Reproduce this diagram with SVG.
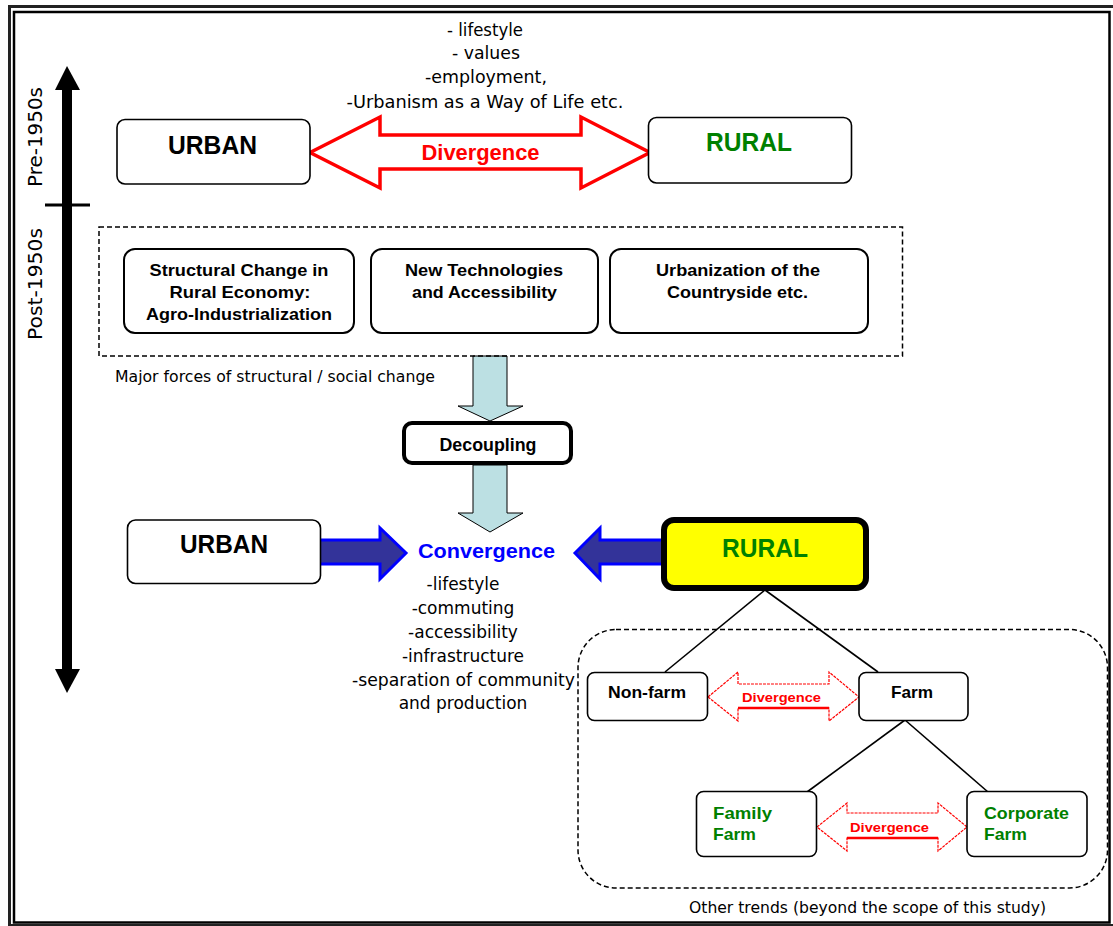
<svg xmlns="http://www.w3.org/2000/svg" width="1113" height="926" viewBox="0 0 1113 926">
<defs>
<style>
.reg{font-family:"DejaVu Sans","Liberation Sans",sans-serif;font-weight:normal;fill:#000}
.b{font-family:"Liberation Sans",Arial,sans-serif;font-weight:bold;fill:#000}
.mid{text-anchor:middle}
.box{fill:#fff;stroke:#000;stroke-width:1.6}
.fbox{fill:#fff;stroke:#000;stroke-width:2}
.green{fill:#008000}
.red{fill:#ff0000}
.line{stroke:#000;stroke-width:1.6;fill:none}
.teal{fill:#bce0e3;stroke:#000;stroke-width:1}
.blue{fill:#333399;stroke:#0000ff;stroke-width:3}
.rarrow{fill:#fff;stroke:#ff0000;stroke-width:3.5;stroke-linejoin:miter}
.sarrow{fill:#fff;stroke:#ff0000;stroke-width:1.2;stroke-dasharray:3 1}
</style>
</defs>
<rect width="1113" height="926" fill="#fff"/>
<!-- frame -->
<g id="frame" fill="none">
<path d="M9.5,926 V6.5 H1113" stroke="#222" stroke-width="3"/>
<path d="M8,925 H1113" stroke="#222" stroke-width="2"/>
<rect x="14" y="12" width="1095.5" height="910.5" stroke="#000" stroke-width="2.5"/>
</g>
<!-- timeline -->
<g id="timeline">
<rect x="62" y="88" width="10" height="583" fill="#000"/>
<polygon points="67,66 80,90 55,90" fill="#000"/>
<polygon points="67,693 80,669 55,669" fill="#000"/>
<line x1="45" y1="205" x2="90" y2="205" stroke="#000" stroke-width="3"/>
<text class="reg mid" font-size="19" transform="translate(42,137) rotate(-90)" textLength="100" lengthAdjust="spacingAndGlyphs">Pre-1950s</text>
<text class="reg mid" font-size="19" transform="translate(42,284) rotate(-90)" textLength="112" lengthAdjust="spacingAndGlyphs">Post-1950s</text>
</g>
<!-- top texts -->
<g id="top-list">
<text class="reg mid" font-size="17" x="485" y="36" textLength="76" lengthAdjust="spacingAndGlyphs">- lifestyle</text>
<text class="reg mid" font-size="17" x="486" y="59" textLength="68" lengthAdjust="spacingAndGlyphs">- values</text>
<text class="reg mid" font-size="17" x="486" y="83" textLength="122" lengthAdjust="spacingAndGlyphs">-employment,</text>
<text class="reg mid" font-size="17" x="485" y="108" textLength="277" lengthAdjust="spacingAndGlyphs">-Urbanism as a Way of Life etc.</text>
</g>
<!-- connectors -->
<g id="connectors">
<polygon class="rarrow" points="310,152.5 380,117 380,135 581,135 581,117 650,152.5 581,188 581,169 380,169 380,188"/>
<text class="b mid red" font-size="22" x="480.5" y="160" textLength="118" lengthAdjust="spacingAndGlyphs">Divergence</text>
<polygon class="teal" points="473,356 507,356 507,406 523,406 490,421 458,406 473,406"/>
<polygon class="teal" points="473,465 507,465 507,513 523,513 490,532 458,513 473,513"/>
<polygon class="blue" points="315,540 380,540 380,528 406,553 380,579 380,564 315,564"/>
<polygon class="blue" points="575,553 600,528 600,540 665,540 665,564 600,564 600,579"/>
<line class="line" x1="765" y1="590" x2="665" y2="672"/>
<line class="line" x1="765" y1="590" x2="878" y2="672"/>
<line class="line" x1="905" y1="720" x2="807" y2="792"/>
<line class="line" x1="905" y1="720" x2="988" y2="792"/>
<polygon class="sarrow" points="708,697 738,672 738,684 829,684 829,672 859,697 829,721 829,708 738,708 738,721"/>
<line x1="738" y1="708" x2="829" y2="708" stroke="#ff0000" stroke-width="2.5"/>
<text class="b mid red" font-size="12" x="781.5" y="702" textLength="79" lengthAdjust="spacingAndGlyphs">Divergence</text>
<polygon class="sarrow" points="817,827 847,803 847,813 938,813 938,803 967,827 938,851 938,838 847,838 847,851"/>
<line x1="847" y1="838" x2="938" y2="838" stroke="#ff0000" stroke-width="2.5"/>
<text class="b mid red" font-size="12" x="889.5" y="832" textLength="79" lengthAdjust="spacingAndGlyphs">Divergence</text>
</g>
<!-- top nodes -->
<g id="urban-top">
<rect class="box" x="117" y="119.5" width="193" height="64.5" rx="8"/>
<text class="b mid" font-size="25" x="212.5" y="154" textLength="89" lengthAdjust="spacingAndGlyphs">URBAN</text>
</g>
<g id="rural-top">
<rect class="box" x="648.5" y="117.5" width="203" height="65.5" rx="8"/>
<text class="b mid green" font-size="25" x="749" y="151" textLength="86" lengthAdjust="spacingAndGlyphs">RURAL</text>
</g>
<!-- forces -->
<g id="forces">
<rect x="99" y="227" width="803.5" height="129" fill="none" stroke="#000" stroke-width="1.5" stroke-dasharray="5 3"/>
<text class="reg" font-size="15" x="115" y="382" textLength="320" lengthAdjust="spacingAndGlyphs">Major forces of structural / social change</text>
</g>
<g id="force-structural">
<rect class="fbox" x="124" y="249" width="230" height="84" rx="11"/>
<text class="b mid" font-size="16.5" x="239" y="276" textLength="179" lengthAdjust="spacingAndGlyphs">Structural Change in</text>
<text class="b mid" font-size="16.5" x="240" y="298" textLength="141" lengthAdjust="spacingAndGlyphs">Rural Economy:</text>
<text class="b mid" font-size="16.5" x="239" y="320" textLength="186" lengthAdjust="spacingAndGlyphs">Agro-Industrialization</text>
</g>
<g id="force-tech">
<rect class="fbox" x="371" y="249" width="227" height="84" rx="11"/>
<text class="b mid" font-size="16.5" x="484" y="276" textLength="158" lengthAdjust="spacingAndGlyphs">New Technologies</text>
<text class="b mid" font-size="16.5" x="484.5" y="298" textLength="145" lengthAdjust="spacingAndGlyphs">and Accessibility</text>
</g>
<g id="force-urbanization">
<rect class="fbox" x="610" y="249" width="258" height="84" rx="11"/>
<text class="b mid" font-size="16.5" x="738" y="276" textLength="164" lengthAdjust="spacingAndGlyphs">Urbanization of the</text>
<text class="b mid" font-size="16.5" x="737.5" y="298" textLength="141" lengthAdjust="spacingAndGlyphs">Countryside etc.</text>
</g>
<g id="decoupling">
<rect x="404" y="423" width="167" height="40" rx="8" fill="#fff" stroke="#000" stroke-width="4"/>
<text class="b mid" font-size="17.5" x="488" y="451" textLength="97" lengthAdjust="spacingAndGlyphs">Decoupling</text>
</g>
<g id="convergence">
<text class="b mid" font-size="21" x="486.5" y="558" style="fill:#0000ff" textLength="137" lengthAdjust="spacingAndGlyphs">Convergence</text>
<text class="reg mid" font-size="17" x="463" y="590">-lifestyle</text>
<text class="reg mid" font-size="17" x="463" y="614">-commuting</text>
<text class="reg mid" font-size="17" x="463" y="638">-accessibility</text>
<text class="reg mid" font-size="17" x="463" y="662">-infrastructure</text>
<text class="reg mid" font-size="17" x="463.5" y="686" textLength="223" lengthAdjust="spacingAndGlyphs">-separation of community</text>
<text class="reg mid" font-size="17" x="463" y="709">and production</text>
</g>
<g id="urban-bottom">
<rect class="box" x="127.5" y="520" width="193" height="63.5" rx="8"/>
<text class="b mid" font-size="25" x="224" y="553" textLength="88" lengthAdjust="spacingAndGlyphs">URBAN</text>
</g>
<g id="rural-bottom">
<rect x="664" y="520" width="202" height="68" rx="10" fill="#ffff00" stroke="#000" stroke-width="6"/>
<text class="b mid green" font-size="25" x="765" y="557" textLength="86" lengthAdjust="spacingAndGlyphs">RURAL</text>
</g>
<!-- other trends -->
<g id="other-trends">
<rect x="578" y="629.5" width="529.5" height="258.5" rx="38" fill="none" stroke="#000" stroke-width="1.5" stroke-dasharray="5 3"/>
<text class="reg" font-size="15" x="689" y="913" textLength="357" lengthAdjust="spacingAndGlyphs">Other trends (beyond the scope of this study)</text>
</g>
<g id="non-farm">
<rect class="box" x="587.5" y="672.5" width="120" height="48" rx="7"/>
<text class="b mid" font-size="17" x="647" y="698" textLength="78" lengthAdjust="spacingAndGlyphs">Non-farm</text>
</g>
<g id="farm">
<rect class="box" x="859" y="672.5" width="109" height="48" rx="7"/>
<text class="b mid" font-size="17" x="912" y="698" textLength="42" lengthAdjust="spacingAndGlyphs">Farm</text>
</g>
<g id="family-farm">
<rect class="box" x="696.5" y="791.5" width="120" height="65" rx="7"/>
<text class="b green" font-size="17" x="713" y="819" textLength="59" lengthAdjust="spacingAndGlyphs">Family</text>
<text class="b green" font-size="17" x="713" y="840" textLength="43" lengthAdjust="spacingAndGlyphs">Farm</text>
</g>
<g id="corporate-farm">
<rect class="box" x="967" y="791.5" width="120" height="65" rx="7"/>
<text class="b green" font-size="17" x="984" y="819" textLength="85" lengthAdjust="spacingAndGlyphs">Corporate</text>
<text class="b green" font-size="17" x="984" y="840" textLength="43" lengthAdjust="spacingAndGlyphs">Farm</text>
</g>
</svg>
